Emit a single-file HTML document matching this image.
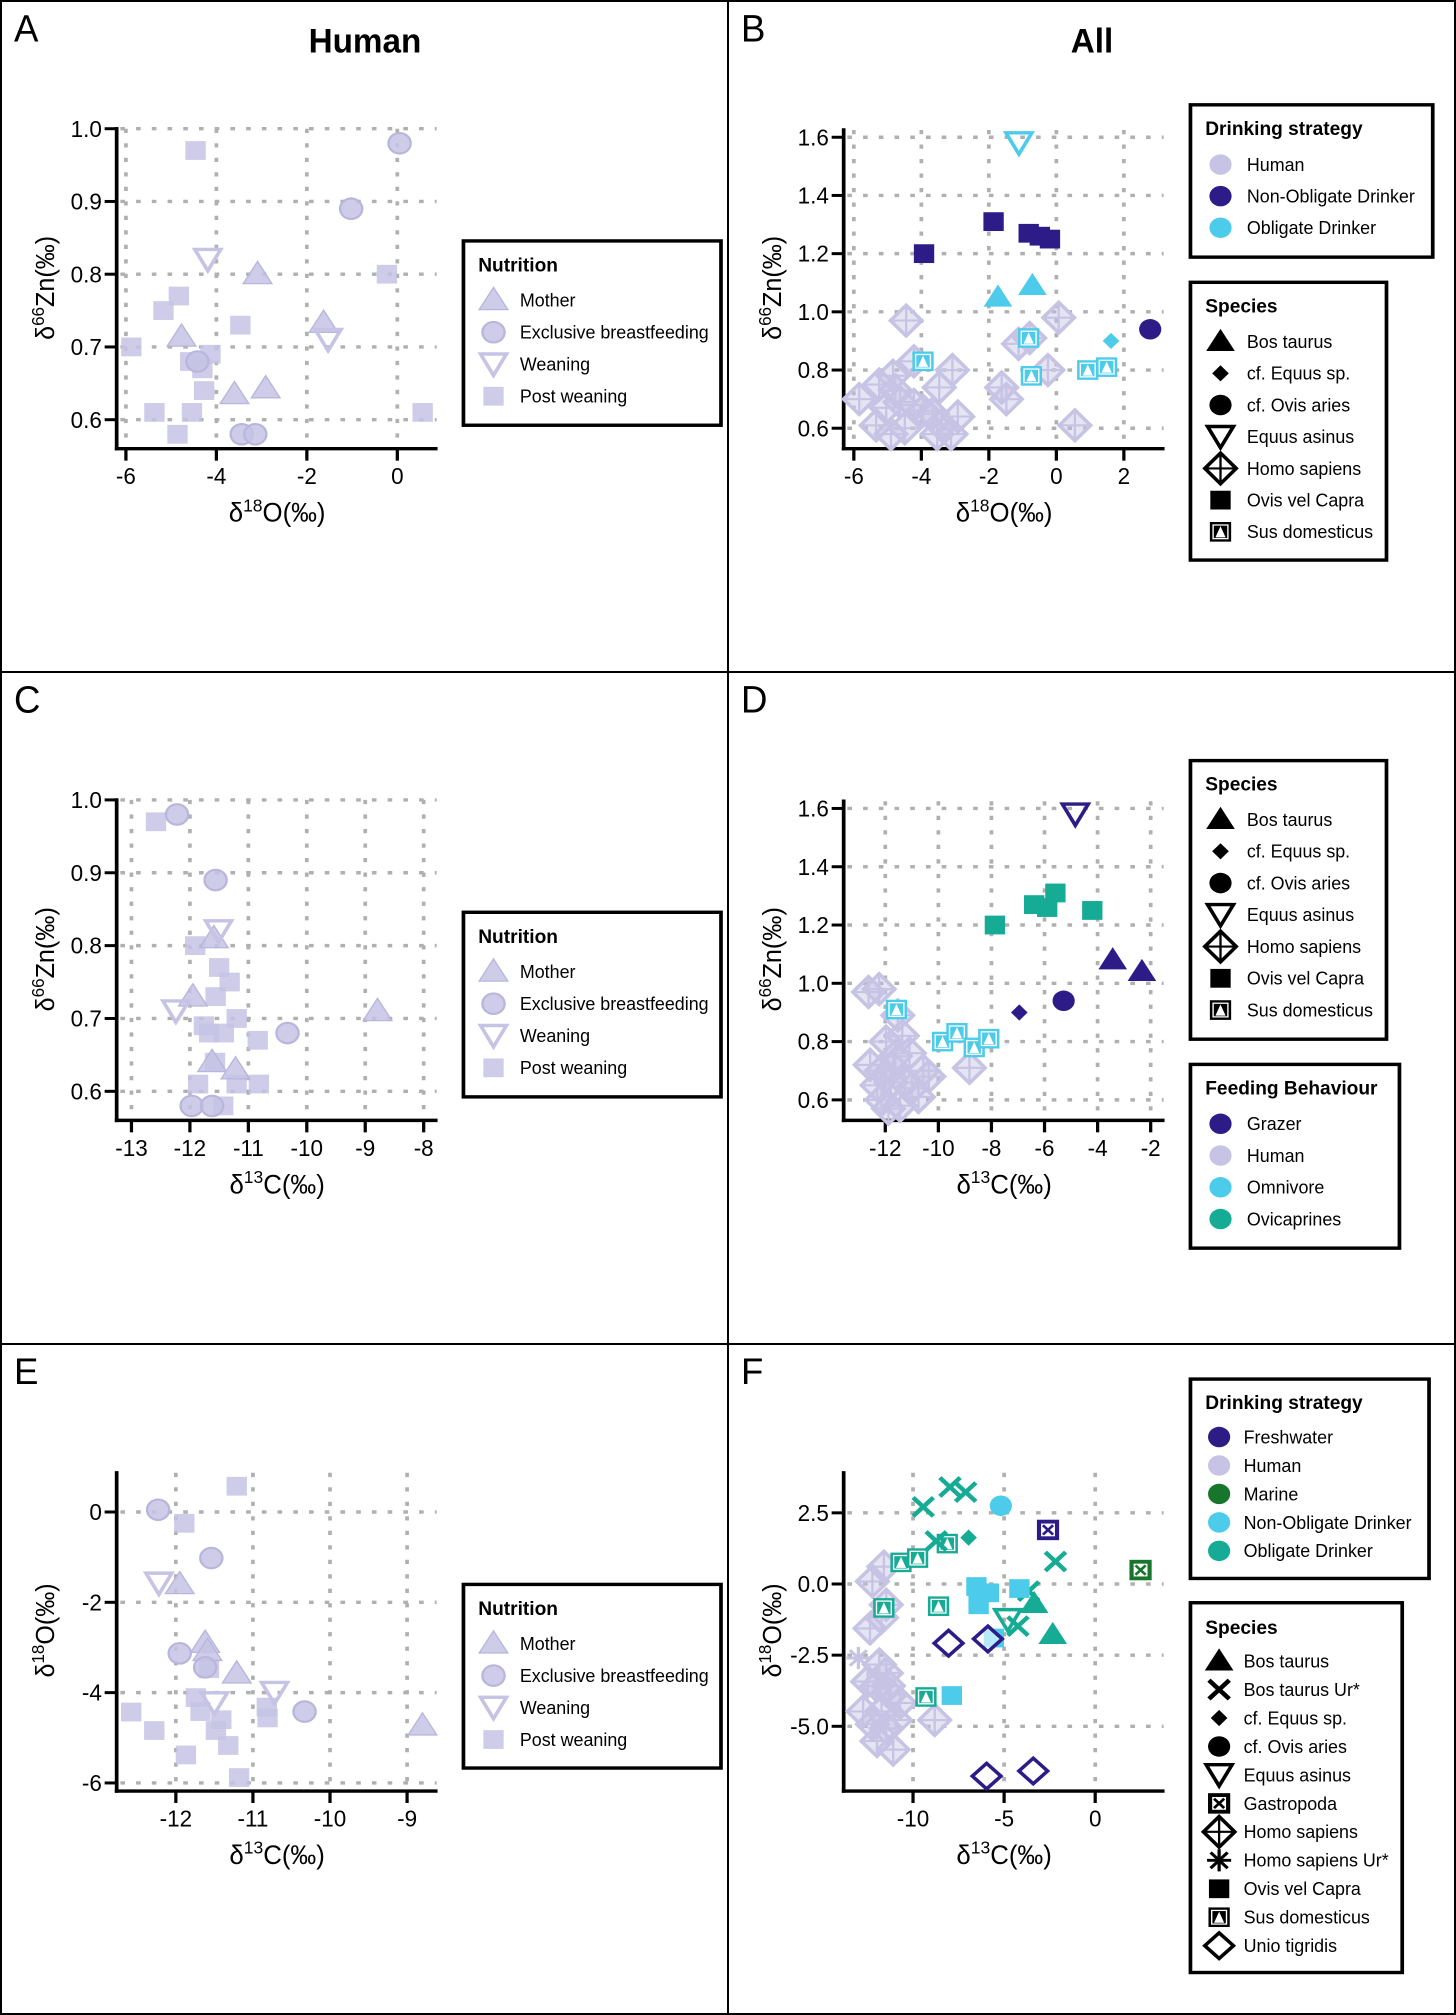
<!DOCTYPE html>
<html><head><meta charset="utf-8"><style>
html,body{margin:0;padding:0;background:#fff;}
body{width:1456px;height:2015px;position:relative;overflow:hidden;font-family:"Liberation Sans",Arial,sans-serif;}
.panel{position:absolute;box-sizing:border-box;border:2px solid #000;background:#fff;}
.panel svg{position:absolute;left:0;top:0;}
</style></head><body>
<div class="panel" id="pA" style="left:0;top:0;width:729px;height:673px"></div>
<div class="panel" id="pB" style="left:727px;top:0;width:729px;height:673px"></div>
<div class="panel" id="pC" style="left:0;top:671px;width:729px;height:674px"></div>
<div class="panel" id="pD" style="left:727px;top:671px;width:729px;height:674px"></div>
<div class="panel" id="pE" style="left:0;top:1343px;width:729px;height:672px"></div>
<div class="panel" id="pF" style="left:727px;top:1343px;width:729px;height:672px"></div>
<script>
// ---------- Panel A data (d18O vs d66Zn, humans) ----------
const aMotherX=[-3.09,-4.77,-1.63,-3.6,-2.91];
const aMotherY=[0.80,0.714,0.733,0.635,0.643];
const aBreastX=[0.05,-1.02,-4.42,-3.44,-3.14];
const aBreastY=[0.98,0.89,0.68,0.58,0.58];
const aWeanX=[-4.19,-1.53];
const aWeanY=[0.82,0.71];
const aPostX=[-4.46,-0.23,-4.83,-5.17,-3.47,-5.88,-4.13,-4.31,-4.58,-4.27,-5.37,-4.54,0.56,-4.86];
const aPostY=[0.97,0.80,0.77,0.75,0.73,0.70,0.69,0.67,0.68,0.64,0.61,0.61,0.61,0.58];
const aXTicks=[-6,-4,-2,0];
const aXLabels=["-6","-4","-2","0"];
const aYTicks=[1.0,0.9,0.8,0.7,0.6];
const aYLabels=["1.0","0.9","0.8","0.7","0.6"];
// ---------- Panel B data ----------
const bNonObSheepX=[-3.92,-1.86,-0.82,-0.49,-0.19];
const bNonObSheepY=[1.2,1.31,1.27,1.26,1.25];
const bNonObOvisX=[2.78];
const bNonObOvisY=[0.94];
const bObAsinusX=[-1.11];
const bObAsinusY=[1.58];
const bObBosX=[-1.73,-0.71];
const bObBosY=[1.05,1.09];
const bObEquusX=[1.62];
const bObEquusY=[0.90];
const bObSusX=[-3.95,-0.82,-0.74,0.93,1.49];
const bObSusY=[0.83,0.91,0.78,0.80,0.81];
const bHumanX=[-4.45,0.07,-1.12,-0.79,-4.22,-3.08,-0.25,-4.84,-5.25,-3.47,-4.63,-4.22,-3.95,-1.62,-1.48,-5.84,-2.92,-3.67,-5.34,-4.90,-4.49,-3.53,-3.12,0.55,-5.04,-3.40,-4.77];
const bHumanY=[0.97,0.98,0.89,0.91,0.83,0.80,0.80,0.78,0.75,0.74,0.69,0.68,0.66,0.74,0.70,0.70,0.64,0.65,0.61,0.58,0.60,0.58,0.58,0.61,0.67,0.61,0.73];
const bXTicks=[-6,-4,-2,0,2];
const bXLabels=["-6","-4","-2","0","2"];
const bYTicks=[1.6,1.4,1.2,1.0,0.8,0.6];
const bYLabels=["1.6","1.4","1.2","1.0","0.8","0.6"];
// ---------- Panel C data (d13C vs d66Zn, humans) ----------
const cMotherX=[-11.62,-11.95,-11.59,-11.22,-8.79];
const cMotherY=[0.64,0.73,0.81,0.63,0.71];
const cBreastX=[-12.22,-11.56,-10.33,-11.97,-11.62];
const cBreastY=[0.98,0.89,0.68,0.58,0.58];
const cWeanX=[-11.51,-12.24];
const cWeanY=[0.82,0.71];
const cPostX=[-12.58,-11.91,-11.5,-11.32,-11.56,-11.2,-11.76,-11.67,-11.42,-10.84,-11.57,-11.86,-11.2,-10.82,-11.43];
const cPostY=[0.97,0.80,0.77,0.75,0.73,0.70,0.69,0.68,0.68,0.67,0.64,0.61,0.61,0.61,0.58];
const cXTicks=[-13,-12,-11,-10,-9,-8];
const cXLabels=["-13","-12","-11","-10","-9","-8"];
// ---------- Panel D data ----------
const dGrazerAsinusX=[-4.84];
const dGrazerAsinusY=[1.58];
const dGrazerBosX=[-3.43,-2.33];
const dGrazerBosY=[1.08,1.04];
const dGrazerEquusX=[-6.95];
const dGrazerEquusY=[0.90];
const dGrazerOvisX=[-5.28];
const dGrazerOvisY=[0.94];
const dOviX=[-7.87,-6.39,-5.9,-5.59,-4.2];
const dOviY=[1.2,1.27,1.26,1.31,1.25];
const dOmniX=[-11.58,-9.84,-9.3,-8.65,-8.1];
const dOmniY=[0.91,0.80,0.83,0.78,0.81];
const dHumanX=[-12.63,-12.23,-11.53,-11.97,-11.36,-12.57,-12.14,-11.62,-11.09,-10.57,-10.36,-11.79,-11.27,-10.75,-12.14,-11.88,-11.44,-11.0,-8.83,-12.31,-11.7];
const dHumanY=[0.97,0.98,0.89,0.80,0.82,0.72,0.70,0.75,0.76,0.70,0.68,0.66,0.66,0.61,0.60,0.57,0.58,0.64,0.71,0.65,0.71];
const dXTicks=[-12,-10,-8,-6,-4,-2];
const dXLabels=["-12","-10","-8","-6","-4","-2"];
// ---------- Panel E data (d13C vs d18O, humans) ----------
const eMotherX=[-11.95,-11.62,-11.21,-8.8,-11.59];
const eMotherY=[-1.6,-2.9,-3.58,-4.73,-3.08];
const eBreastX=[-12.23,-11.54,-11.95,-11.62,-10.33];
const eBreastY=[0.05,-1.02,-3.13,-3.44,-4.42];
const eWeanX=[-12.22,-10.72,-11.5];
const eWeanY=[-1.58,-4.0,-4.23];
const ePostX=[-11.21,-11.89,-11.57,-11.74,-12.58,-12.28,-11.68,-11.41,-11.48,-11.32,-11.87,-11.18,-10.82,-10.81];
const ePostY=[0.57,-0.25,-3.47,-4.11,-4.43,-4.84,-4.42,-4.6,-4.84,-5.17,-5.38,-5.88,-4.32,-4.56];
const eXTicks=[-12,-11,-10,-9];
const eXLabels=["-12","-11","-10","-9"];
const eYTicks=[0,-2,-4,-6];
const eYLabels=["0","-2","-4","-6"];
// ---------- Panel F data ----------
const fFreshGastroX=[-2.59];
const fFreshGastroY=[1.9];
const fFreshUnioX=[-8.05,-5.89,-5.96,-3.4];
const fFreshUnioY=[-2.08,-1.93,-6.75,-6.57];
const fMarineGastroX=[2.49];
const fMarineGastroY=[0.49];
const fNonObOvisX=[-5.18];
const fNonObOvisY=[2.75];
const fNonObSheepX=[-6.52,-5.84,-6.4,-4.16,-5.56,-7.87];
const fNonObSheepY=[-0.09,-0.31,-0.73,-0.16,-1.9,-3.92];
const fObUrX=[-9.44,-7.97,-7.11,-8.73,-2.18,-3.65,-4.24];
const fObUrY=[2.71,3.41,3.23,1.51,0.79,-0.25,-1.48];
const fObEquusX=[-6.95];
const fObEquusY=[1.63];
const fObSusX=[-10.66,-9.75,-8.12,-11.6,-8.6,-9.29];
const fObSusY=[0.76,0.91,1.42,-0.84,-0.78,-3.97];
const fObBosX=[-3.35,-2.33];
const fObBosY=[-0.69,-1.78];
const fObAsinusX=[-4.8];
const fObAsinusY=[-1.26];
const fHumanX=[-12.23,-11.6,-12.36,-11.73,-11.47,-11.85,-11.47,-11.98,-11.22,-10.71,-12.74,-11.73,-12.23,-11.47,-11.98,-11.09,-10.96,-8.81,-12.49,-11.35];
const fHumanY=[0.09,0.61,-1.56,-1.18,-0.73,-2.83,-3.13,-3.58,-3.88,-4.18,-4.48,-4.48,-4.93,-5.07,-5.52,-5.82,-4.78,-4.78,-3.43,-3.58];
const fHumanUrX=[-13.0];
const fHumanUrY=[-2.6];
const fXTicks=[-10,-5,0];
const fXLabels=["-10","-5","0"];
const fYTicks=[2.5,0,-2.5,-5];
const fYLabels=["2.5","0.0","-2.5","-5.0"];

const NS="http://www.w3.org/2000/svg";
const LAV="#c6c3e4", LAVS="#b9b5dc", NAVY="#2d1b88", LB="#4ccbea", TEAL="#16ab95", GREEN="#17762b";
const SQX=0.9;
function el(tag,attrs,parent){const e=document.createElementNS(NS,tag);for(const k in attrs)e.setAttribute(k,attrs[k]);if(parent)parent.appendChild(e);return e;}
function makeSvg(id,w,h){const p=document.getElementById(id);const s=el('svg',{width:w-4,height:h-4,viewBox:'0 0 1568 1568',preserveAspectRatio:'none'},p);return s;}

function marker(g,shape,cx,cy,col,opt){
  opt=opt||{};
  const m=el('g',{},g);
  const op=opt.op||1;
  if(shape==='tri'){el('polygon',{points:`${cx},${cy-30} ${cx-31},${cy+22} ${cx+31},${cy+22}`,fill:col,'fill-opacity':op,stroke:opt.st||'none','stroke-width':3},m);}
  else if(shape==='invtri'){el('polygon',{points:`${cx-28},${cy-24} ${cx+28},${cy-24} ${cx},${cy+26}`,fill:'none',stroke:col,'stroke-width':8},m);}
  else if(shape==='circle'){el('circle',{cx:cx,cy:cy,r:24,fill:col,'fill-opacity':op,stroke:opt.st||'none','stroke-width':5},m);}
  else if(shape==='square'){el('rect',{x:cx-22,y:cy-22,width:44,height:44,fill:col,'fill-opacity':op},m);}
  else if(shape==='dplus'){const blk=(col==='#000');el('polygon',{points:`${cx},${cy-36} ${cx+34},${cy} ${cx},${cy+36} ${cx-34},${cy}`,fill:blk?'#fff':col,'fill-opacity':blk?1:0.45,stroke:col,'stroke-width':8},m);
    el('line',{x1:cx-30,y1:cy,x2:cx+30,y2:cy,stroke:col,'stroke-width':5},m);el('line',{x1:cx,y1:cy-32,x2:cx,y2:cy+32,stroke:col,'stroke-width':5},m);}
  else if(shape==='sus'){el('rect',{x:cx-23,y:cy-23,width:46,height:46,fill:col},m);el('rect',{x:cx-16,y:cy-16,width:32,height:32,fill:'none',stroke:'#fff','stroke-width':3},m);
    el('polygon',{points:`${cx},${cy-13} ${cx-11},${cy+13} ${cx+11},${cy+13}`,fill:'#fff'},m);}
  else if(shape==='sdiamond'){el('polygon',{points:`${cx},${cy-19} ${cx+18},${cy} ${cx},${cy+19} ${cx-18},${cy}`,fill:col},m);}
  else if(shape==='x'){el('line',{x1:cx-22,y1:cy-22,x2:cx+22,y2:cy+22,stroke:col,'stroke-width':10},m);el('line',{x1:cx-22,y1:cy+22,x2:cx+22,y2:cy-22,stroke:col,'stroke-width':10},m);}
  else if(shape==='gastro'){el('rect',{x:cx-24,y:cy-24,width:48,height:48,fill:col},m);el('rect',{x:cx-15,y:cy-15,width:30,height:30,fill:'#fff'},m);
    el('line',{x1:cx-11,y1:cy-11,x2:cx+11,y2:cy+11,stroke:col,'stroke-width':6},m);el('line',{x1:cx-11,y1:cy+11,x2:cx+11,y2:cy-11,stroke:col,'stroke-width':6},m);}
  else if(shape==='diamond'){el('polygon',{points:`${cx},${cy-30} ${cx+31},${cy} ${cx},${cy+30} ${cx-31},${cy}`,fill:'#fff','fill-opacity':0.6,stroke:col,'stroke-width':8},m);}
  else if(shape==='ast'){for(const a of [0,45,90,135]){const r=a*Math.PI/180;el('line',{x1:cx-26*Math.cos(r),y1:cy-26*Math.sin(r),x2:cx+26*Math.cos(r),y2:cy+26*Math.sin(r),stroke:col,'stroke-width':7},m);}}
  return m;
}

function text(g,x,y,str,size,opt){opt=opt||{};const t=el('text',{x:0,y:0,transform:`translate(${x} ${y}) scale(${SQX} 1)`,'font-size':size,'font-family':'"Liberation Sans",Arial,sans-serif',fill:'#000'},g);
  if(opt.anchor)t.setAttribute('text-anchor',opt.anchor);if(opt.bold)t.setAttribute('font-weight','bold');t.textContent=str;return t;}

function axisTitle(g,x,y,pre,sup,post,rot){
  const t=el('text',{x:0,y:0,'font-size':62,'font-family':'"Liberation Sans",Arial,sans-serif','text-anchor':'middle',fill:'#000'},g);
  t.setAttribute('transform',rot?`translate(${x} ${y}) rotate(-90) scale(0.95 ${SQX})`:`translate(${x} ${y}) scale(${SQX} 1)`);
  const a=el('tspan',{},t);a.textContent=pre;
  const b=el('tspan',{dy:-24,'font-size':42},t);b.textContent=sup;
  const c=el('tspan',{dy:24},t);c.textContent=post;
  return t;
}

function drawAxes(svg,sc,xTicks,xLabels,yTicks,yLabels,xt,yt,top){
  const ax=el('g',{},svg);
  
  
  const grid=el('g',{stroke:'#b0b0b0','stroke-width':8,'stroke-dasharray':'10 24'},ax);
  
  
  xTicks.forEach(v=>{const x=sc.x(v);el('line',{x1:x,y1:top,x2:x,y2:1047},grid);});
  yTicks.forEach(v=>{const y=sc.y(v);el('line',{x1:256,y1:y,x2:940,y2:y},grid);});
  const yl=el('line',{x1:248,y1:top-4,x2:248,y2:1051,stroke:'#000','stroke-width':8},ax);
  
  
  const xl=el('line',{x1:244,y1:1047,x2:942,y2:1047,stroke:'#000','stroke-width':8},ax);
  
  
  xTicks.forEach((v,i)=>{const x=sc.x(v);el('line',{x1:x,y1:1047,x2:x,y2:1075,stroke:'#000','stroke-width':7},ax);
    const t=text(ax,x,1130,xLabels[i],54,{anchor:'middle'});
    
    });
  yTicks.forEach((v,i)=>{const y=sc.y(v);el('line',{x1:222,y1:y,x2:248,y2:y,stroke:'#000','stroke-width':7},ax);
    const t=text(ax,216,y+19,yLabels[i],54,{anchor:'end'});
    
    });
  const xtt=axisTitle(ax,595,1218,xt[0],xt[1],xt[2],false);
  
  
  const ytt=axisTitle(ax,112,670,yt[0],yt[1],yt[2],true);
  
  
}

function scale(xv0,xp0,xpu,yv0,yp0,ypu){return {x:v=>xp0+(v-xv0)*xpu,y:v=>yp0-(v-yv0)*ypu};}

function plotSeries(svg,sc,xs,ys,shape,col,name,opt){
  const g=el('g',{},svg);
  
  
  xs.forEach((v,i)=>{const m=marker(g,shape,sc.x(v),sc.y(ys[i]),col,opt);
    
    });
}

function legend(svg,x1,y1,x2,y2,title,entries,ty,ey0,estep,mx,tx,name){
  const g=el('g',{},svg);
  
  
  el('rect',{x:x1,y:y1,width:x2-x1,height:y2-y1,fill:'#fff',stroke:'#000','stroke-width':8},g);
  const tt=text(g,1030,ty,title,46,{bold:true});
  
  
  entries.forEach((e,i)=>{const y=ey0+i*estep;const eg=el('g',{},g);
    
    
    marker(eg,e[1],mx,y,e[2],e[3]);text(eg,tx,y+15,e[0],43);});
}

function header(svg,letter,title){
  const l=text(svg,26,92,letter,88);
  
  
  if(title){const t=text(svg,785,118,title,80,{anchor:'middle',bold:true});
    
    }
}

const lavOpt={op:0.85,st:LAVS};
const nutritionEntries=[["Mother",'tri',LAV,lavOpt],["Exclusive breastfeeding",'circle',LAV,lavOpt],["Weaning",'invtri',LAV],["Post weaning",'square',LAV,lavOpt]];
const speciesBasic=[["Bos taurus",'tri','#000'],["cf. Equus sp.",'sdiamond','#000'],["cf. Ovis aries",'circle','#000'],["Equus asinus",'invtri','#000'],["Homo sapiens",'dplus','#000'],["Ovis vel Capra",'square','#000'],["Sus domesticus",'sus','#000']];

// Panel A
(function(){const s=makeSvg('pA',729,673);header(s,'A','Human');
  const sc=scale(-6,268,97.83,1.0,297,1705);
  drawAxes(s,sc,aXTicks,aXLabels,aYTicks,aYLabels,['δ','18','O(‰)'],['δ','66','Zn(‰)'],297);
  plotSeries(s,sc,aPostX,aPostY,'square',LAV,'post-weaning',lavOpt);
  plotSeries(s,sc,aMotherX,aMotherY,'tri',LAV,'mother',lavOpt);
  plotSeries(s,sc,aBreastX,aBreastY,'circle',LAV,'exclusive-breastfeeding',lavOpt);
  plotSeries(s,sc,aWeanX,aWeanY,'invtri',LAV,'weaning');
  legend(s,998,560,1555,992,'Nutrition',nutritionEntries,632,699,75,1063,1120,'nutrition-legend');
})();
// Panel B
(function(){const s=makeSvg('pB',729,673);header(s,'B','All');
  const sc=scale(-6,270,73,1.6,317,682);
  drawAxes(s,sc,bXTicks,bXLabels,bYTicks,bYLabels,['δ','18','O(‰)'],['δ','66','Zn(‰)'],300);
  plotSeries(s,sc,bHumanX,bHumanY,'dplus',LAV,'homo-sapiens');
  plotSeries(s,sc,bNonObSheepX,bNonObSheepY,'square',NAVY,'ovis-vel-capra');
  plotSeries(s,sc,bNonObOvisX,bNonObOvisY,'circle',NAVY,'cf-ovis-aries');
  plotSeries(s,sc,bObAsinusX,bObAsinusY,'invtri',LB,'equus-asinus');
  plotSeries(s,sc,bObBosX,bObBosY,'tri',LB,'bos-taurus');
  plotSeries(s,sc,bObEquusX,bObEquusY,'sdiamond',LB,'cf-equus');
  plotSeries(s,sc,bObSusX,bObSusY,'sus',LB,'sus-domesticus');
  legend(s,998,241,1522,598,'Drinking strategy',[["Human",'circle',LAV],["Non-Obligate Drinker",'circle',NAVY],["Obligate Drinker",'circle',LB]],312,381,74,1063,1120,'drinking-strategy-legend');
  legend(s,998,657,1422,1308,'Species',speciesBasic,728,796,74.3,1063,1120,'species-legend');
})();
// Panel C
(function(){const s=makeSvg('pC',729,674);header(s,'C');
  const sc=scale(-13,280,126.4,1.0,297,1705);
  drawAxes(s,sc,cXTicks,cXLabels,aYTicks,aYLabels,['δ','13','C(‰)'],['δ','66','Zn(‰)'],297);
  plotSeries(s,sc,cPostX,cPostY,'square',LAV,'post-weaning',lavOpt);
  plotSeries(s,sc,cMotherX,cMotherY,'tri',LAV,'mother',lavOpt);
  plotSeries(s,sc,cBreastX,cBreastY,'circle',LAV,'exclusive-breastfeeding',lavOpt);
  plotSeries(s,sc,cWeanX,cWeanY,'invtri',LAV,'weaning');
  legend(s,998,560,1555,992,'Nutrition',nutritionEntries,632,699,75,1063,1120,'nutrition-legend');
})();
// Panel D
(function(){const s=makeSvg('pD',729,674);header(s,'D');
  const sc=scale(-12,338,57.4,1.6,317,682);
  drawAxes(s,sc,dXTicks,dXLabels,bYTicks,bYLabels,['δ','13','C(‰)'],['δ','66','Zn(‰)'],300);
  plotSeries(s,sc,dHumanX,dHumanY,'dplus',LAV,'homo-sapiens');
  plotSeries(s,sc,dOviX,dOviY,'square',TEAL,'ovis-vel-capra');
  plotSeries(s,sc,dOmniX,dOmniY,'sus',LB,'sus-domesticus');
  plotSeries(s,sc,dGrazerAsinusX,dGrazerAsinusY,'invtri',NAVY,'equus-asinus');
  plotSeries(s,sc,dGrazerBosX,dGrazerBosY,'tri',NAVY,'bos-taurus');
  plotSeries(s,sc,dGrazerEquusX,dGrazerEquusY,'sdiamond',NAVY,'cf-equus');
  plotSeries(s,sc,dGrazerOvisX,dGrazerOvisY,'circle',NAVY,'cf-ovis-aries');
  legend(s,998,205,1422,857,'Species',speciesBasic,275,343,74.3,1063,1120,'species-legend');
  legend(s,998,916,1450,1346,'Feeding Behaviour',[["Grazer",'circle',NAVY],["Human",'circle',LAV],["Omnivore",'circle',LB],["Ovicaprines",'circle',TEAL]],987,1055,74.3,1063,1120,'feeding-behaviour-legend');
})();
// Panel E
(function(){const s=makeSvg('pE',729,672);header(s,'E');
  const sc=scale(-12,376,166.7,0,392,106);
  drawAxes(s,sc,eXTicks,eXLabels,eYTicks,eYLabels,['δ','13','C(‰)'],['δ','18','O(‰)'],300);
  plotSeries(s,sc,ePostX,ePostY,'square',LAV,'post-weaning',lavOpt);
  plotSeries(s,sc,eMotherX,eMotherY,'tri',LAV,'mother',lavOpt);
  plotSeries(s,sc,eBreastX,eBreastY,'circle',LAV,'exclusive-breastfeeding',lavOpt);
  plotSeries(s,sc,eWeanX,eWeanY,'invtri',LAV,'weaning');
  legend(s,998,562,1555,993,'Nutrition',nutritionEntries,634,701,75,1063,1120,'nutrition-legend');
})();
// Panel F
(function(){const s=makeSvg('pF',729,672);header(s,'F');
  const sc=scale(0,792,39.4,0,561,66.8);
  drawAxes(s,sc,fXTicks,fXLabels,fYTicks,fYLabels,['δ','13','C(‰)'],['δ','18','O(‰)'],300);
  plotSeries(s,sc,fHumanX,fHumanY,'dplus',LAV,'homo-sapiens');
  plotSeries(s,sc,fHumanUrX,fHumanUrY,'ast',LAV,'homo-sapiens-ur');
  plotSeries(s,sc,fObSusX,fObSusY,'sus',TEAL,'sus-domesticus');
  plotSeries(s,sc,fObUrX,fObUrY,'x',TEAL,'bos-taurus-ur');
  plotSeries(s,sc,fObEquusX,fObEquusY,'sdiamond',TEAL,'cf-equus');
  plotSeries(s,sc,fNonObOvisX,fNonObOvisY,'circle',LB,'cf-ovis-aries');
  plotSeries(s,sc,fNonObSheepX,fNonObSheepY,'square',LB,'ovis-vel-capra');
  plotSeries(s,sc,fObBosX,fObBosY,'tri',TEAL,'bos-taurus');
  plotSeries(s,sc,fObAsinusX,fObAsinusY,'invtri',TEAL,'equus-asinus');
  plotSeries(s,sc,fFreshGastroX,fFreshGastroY,'gastro',NAVY,'gastropoda-freshwater');
  plotSeries(s,sc,fFreshUnioX,fFreshUnioY,'diamond',NAVY,'unio-tigridis');
  plotSeries(s,sc,fMarineGastroX,fMarineGastroY,'gastro',GREEN,'gastropoda-marine');
  legend(s,998,80,1514,548,'Drinking strategy',[["Freshwater",'circle',NAVY],["Human",'circle',LAV],["Marine",'circle',GREEN],["Non-Obligate Drinker",'circle',LB],["Obligate Drinker",'circle',TEAL]],150,216,66.8,1060,1113,'drinking-strategy-legend');
  legend(s,998,605,1456,1473,'Species',[["Bos taurus",'tri','#000'],["Bos taurus Ur*",'x','#000'],["cf. Equus sp.",'sdiamond','#000'],["cf. Ovis aries",'circle','#000'],["Equus asinus",'invtri','#000'],["Gastropoda",'gastro','#000'],["Homo sapiens",'dplus','#000'],["Homo sapiens Ur*",'ast','#000'],["Ovis vel Capra",'square','#000'],["Sus domesticus",'sus','#000'],["Unio tigridis",'diamond','#000']],678,742,66.8,1060,1113,'species-legend');
})();
</script>
</body></html>
